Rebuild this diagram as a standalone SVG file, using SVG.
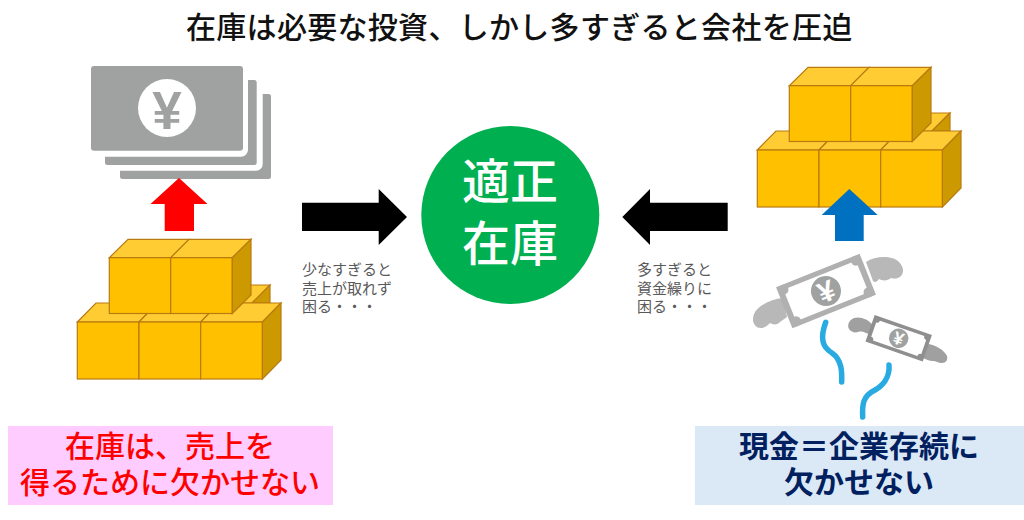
<svg xmlns="http://www.w3.org/2000/svg" width="1024" height="520" viewBox="0 0 1024 520">
<style>
text{font-family:"Noto Sans CJK JP","Noto Sans",sans-serif}
.t{font-size:30px;font-weight:500;fill:#111;letter-spacing:.3px}
.s{font-size:15px;fill:#595959}
.c{font-size:48px;font-weight:500;fill:#fff;text-anchor:middle}
.f{fill:#ffc000;stroke:#b97a10;stroke-width:1.2}
.p{fill:#ffcd33;stroke:#b97a10;stroke-width:1.2}
.d{fill:#cc9a00;stroke:#b97a10;stroke-width:1.2}
.g{fill:#a0a2a1}
.w{fill:#b8b8b8}
.w2{fill:#a0a0a0}
.r{font-size:30px;font-weight:500;fill:#ff0000;text-anchor:middle}
.b{font-size:30px;font-weight:700;fill:#002060;text-anchor:middle}
.y{font-family:"Liberation Sans",sans-serif;font-weight:700;fill:#fff;text-anchor:middle}
</style>
<defs>
<g id="boxes">
<path class="p" d="M232 303L251 285H270L252 303z"/><path class="d" d="M252 303L270 285V303z"/>
<path class="p" d="M77.300 322L96 303H157.500L139 322z"/><path class="p" d="M139 322L157.500 303H219L200.700 322z"/><path class="p" d="M200.700 322L219 303H281L262.400 322z"/>
<rect class="f" x="77.300" y="322" width="61.700" height="57"/><rect class="f" x="139" y="322" width="61.700" height="57"/><rect class="f" x="200.700" y="322" width="61.700" height="57"/>
<path class="d" d="M262.400 322L281 303V360L262.400 379z"/>
<path class="p" d="M109.300 257.700L128 239.300H189L170.700 257.700z"/><path class="p" d="M170.700 257.700L189 239.300H251L232.300 257.700z"/>
<rect class="f" x="109.300" y="257.700" width="61.400" height="55.800"/><rect class="f" x="170.700" y="257.700" width="61.600" height="55.800"/>
<path class="d" d="M232.300 257.700L251 239.300V295L232.300 313.500z"/>
</g>
</defs>
<rect width="1024" height="520" fill="#fff"/>
<text id="title" class="t" x="186" y="38">在庫は必要な投資、しかし多すぎると会社を圧迫</text>
<g id="money-stack">
<path class="g" d="M120 170.700H256A6.700 6.700 0 0 0 262.700 164V94H268.500A2.500 2.500 0 0 1 271 96.500V176.500A2.500 2.500 0 0 1 268.500 179H122.500A2.500 2.500 0 0 1 120 176.500Z"/>
<path class="g" d="M105 156.700H241A7 7 0 0 0 248 149.700V80H254.200A2.500 2.500 0 0 1 256.700 82.500V162.500A2.500 2.500 0 0 1 254.200 165H107.500A2.500 2.500 0 0 1 105 162.500Z"/>
<rect class="g" x="91" y="66" width="152" height="84.700" rx="3"/>
<circle cx="167" cy="108" r="29" fill="#fff"/>
<text class="y" x="167" y="129" font-size="53" style="fill:#a0a2a1">¥</text>
</g>
<g id="stock-left"><use href="#boxes"/></g>
<g id="stock-right"><use href="#boxes" x="680" y="-172"/></g>
<g id="center"><circle cx="510.300" cy="215" r="89" fill="#00b050"/>
<text class="c" x="510" y="199">適正</text><text class="c" x="510" y="261">在庫</text></g>
<g id="connectors">
<path fill="#ff0000" d="M179 178L207.500 204H194V231H164.700V204H150.500Z"/>
<path fill="#0070c0" d="M849.300 189L877.700 215H863.700V241H835V215H821.700Z"/>
<path fill="#000" d="M302 202.700H378.700V189L407 217L378.700 245V231H302Z"/>
<path fill="#000" d="M727.700 202.700H650V189L622.300 217L650 245V231H727.700Z"/>
</g>
<g id="label-left"><text class="s" x="302" y="275">少なすぎると</text><text class="s" x="302" y="294">売上が取れず</text><text class="s" x="302" y="312">困る・・・</text></g>
<g id="label-right"><text class="s" x="637" y="275">多すぎると</text><text class="s" x="637" y="294">資金繰りに</text><text class="s" x="637" y="312">困る・・・</text></g>
<g id="flying-money">
<path class="w" d="M866 262C875 256 892 255 899 262C904 267 904 273 901 276C898 279 894 279 891 278C888 281 882 281 879 279C877 282 875 283 873 281Z"/>
<path class="w" d="M783 298C772 299 758 305 754 314C751 322 755 328 761 328C765 328 768 325 770 323C773 325 778 325 780 322L787 317Z"/>
<g transform="translate(826 291) rotate(-21.800)">
<rect x="-45" y="-22" width="90" height="44" fill="#b0b0b0"/>
<rect x="-39" y="-17" width="78" height="34" fill="#fff"/>
<circle cx="-39" cy="-17" r="5" fill="#b0b0b0"/><circle cx="39" cy="-17" r="5" fill="#b0b0b0"/><circle cx="-39" cy="17" r="5" fill="#b0b0b0"/><circle cx="39" cy="17" r="5" fill="#b0b0b0"/>
<circle r="15" fill="#a0a2a1"/>
<text class="y" y="10.400" font-size="29">¥</text>
</g>
<path class="w2" d="M873 325C868 319 860 316 854 318C849 320 847 325 849 329C851 332 855 333 858 332C861 331 864 332 866 333L872 335Z"/>
<path class="w2" d="M928 344C936 345 944 350 947 356C948 360 946 363 942 363C938 363 936 361 933 361C929 361 926 359 923 358Z"/>
<g transform="translate(898.700 338.300) rotate(19.200)">
<rect x="-30.300" y="-14" width="60.600" height="28" fill="#8f8f8f"/>
<rect x="-26.500" y="-10.500" width="53" height="21" fill="#fff"/>
<circle cx="-26.500" cy="-10.500" r="3" fill="#8f8f8f"/><circle cx="26.500" cy="-10.500" r="3" fill="#8f8f8f"/><circle cx="-26.500" cy="10.500" r="3" fill="#8f8f8f"/><circle cx="26.500" cy="10.500" r="3" fill="#8f8f8f"/>
<circle r="9.700" fill="#a0a2a1"/>
<text class="y" y="6.400" font-size="18">¥</text>
</g>
<path fill="none" stroke="#29abe2" stroke-width="5.500" stroke-linecap="round" d="M825.700 322.300C820 338 822 347 832 353C842 360 842 372 841.700 382"/>
<path fill="none" stroke="#29abe2" stroke-width="5.500" stroke-linecap="round" d="M889 365C890 378 882 386 875 390C863 396 862 404 862.700 417"/>
</g>
<g id="box-left"><rect x="8" y="426" width="325" height="79" fill="#ffccff"/>
<text class="r" x="170" y="457">在庫は、売上を</text><text class="r" x="170" y="493">得るために欠かせない</text></g>
<g id="box-right"><rect x="695" y="426" width="329" height="79" fill="#dbe8f6"/>
<text class="b" x="859" y="457">現金＝企業存続に</text><text class="b" x="859" y="493">欠かせない</text></g>
</svg>
